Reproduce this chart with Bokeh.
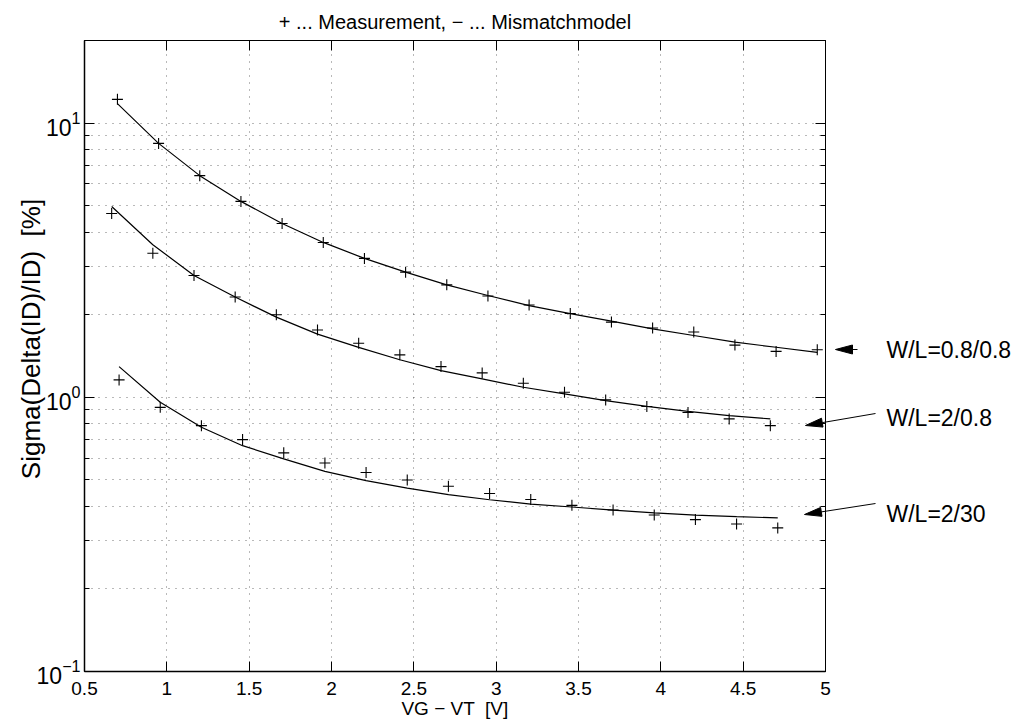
import math
from bokeh.plotting import figure
from bokeh.models import FixedTicker, LinearAxis, LogAxis, Range1d
from bokeh.core.properties import value
from bokeh.embed import file_html
from bokeh.resources import INLINE

# ---------------- data ----------------
# W/L = 0.8/0.8
x_1 = [0.70, 0.95, 1.20, 1.45, 1.70, 1.95, 2.20, 2.45, 2.70, 2.95, 3.20,
       3.45, 3.70, 3.95, 4.20, 4.45, 4.70, 4.95]
meas_1 = [12.2, 8.43, 6.43, 5.18, 4.30, 3.67, 3.21, 2.86, 2.57, 2.34, 2.17,
          2.02, 1.88, 1.79, 1.73, 1.55, 1.47, 1.49]
model_1 = [11.77, 8.43, 6.43, 5.18, 4.30, 3.67, 3.21, 2.86, 2.57, 2.35, 2.16,
           2.02, 1.894, 1.777, 1.68, 1.588, 1.522, 1.459]

# W/L = 2/0.8
x_2 = [0.665, 0.915, 1.165, 1.415, 1.665, 1.915, 2.165, 2.415, 2.665, 2.915,
       3.165, 3.415, 3.665, 3.915, 4.165, 4.415, 4.665]
meas_2 = [4.68, 3.35, 2.78, 2.32, 2.00, 1.76, 1.574, 1.428, 1.294, 1.227,
          1.125, 1.043, 0.978, 0.925, 0.880, 0.834, 0.788]
model_2 = [4.96, 3.60, 2.78, 2.32, 1.96, 1.70, 1.52, 1.37, 1.25, 1.167,
           1.088, 1.029, 0.973, 0.927, 0.889, 0.857, 0.834]

# W/L = 2/30
x_3 = [0.71, 0.96, 1.21, 1.46, 1.71, 1.96, 2.21, 2.46, 2.71, 2.96, 3.21,
       3.46, 3.71, 3.96, 4.21, 4.46, 4.71]
meas_3 = [1.157, 0.919, 0.788, 0.701, 0.627, 0.576, 0.532, 0.4995, 0.4735,
          0.446, 0.424, 0.4036, 0.388, 0.372, 0.358, 0.345, 0.334]
model_3 = [1.294, 0.959, 0.777, 0.666, 0.596, 0.537, 0.497, 0.466, 0.4415,
           0.423, 0.408, 0.398, 0.388, 0.379, 0.372, 0.367, 0.363]

x_ticks = [0.5, 1, 1.5, 2, 2.5, 3, 3.5, 4, 4.5, 5]
x_tick_labels = ["0.5", "1", "1.5", "2", "2.5", "3", "3.5", "4", "4.5", "5"]
y_ticks = [0.1, 1, 10]
y_minor = [0.2, 0.3, 0.4, 0.5, 0.6, 0.7, 0.8, 0.9,
           2, 3, 4, 5, 6, 7, 8, 9, 20]

NB = "\u00a0"
title_text = "+ ... Measurement, \u2212 ... Mismatchmodel"
x_label = "VG \u2212 VT " + NB + "[V]"
y_label = "Sigma(Delta(ID)/ID) " + NB + "[%]"
annotations = ["W/L=0.8/0.8", "W/L=2/0.8", "W/L=2/30"]
annotation_y = [1.493, 0.840, 0.3745]      # value level each label sits at

FONT = "Liberation Sans"

# frame geometry (pixels)
W, H = 1028, 726
FL, FR, FT, FB = 84, 825, 40, 671
XR = (0.5, 5.0)
YR = (0.1, 20.0)


def xd(px):
    return XR[0] + (px - FL) * (XR[1] - XR[0]) / (FR - FL)


def yd(py):
    l0, l1 = math.log10(YR[0]), math.log10(YR[1])
    return 10 ** (l1 - (py - FT) * (l1 - l0) / (FB - FT))


p = figure(width=W, height=H, x_range=Range1d(*XR),
           y_range=Range1d(*YR), y_axis_type="log",
           output_backend="svg", toolbar_location=None,
           min_border_left=FL, min_border_right=W - FR,
           min_border_top=FT, min_border_bottom=H - FB)
p.background_fill_color = "white"
p.border_fill_color = "white"
p.outline_line_color = "black"
p.outline_line_width = 1

# axes
xt = FixedTicker(ticks=x_ticks)
yt = FixedTicker(ticks=y_ticks, minor_ticks=y_minor)

p.xaxis.ticker = xt
p.xaxis.major_label_overrides = {t: s for t, s in zip(x_ticks, x_tick_labels)}
p.yaxis.ticker = yt

for ax in (p.xaxis[0], p.yaxis[0]):
    ax.axis_line_color = "black"
    ax.axis_line_width = 1.5
    ax.major_tick_line_color = "black"
    ax.major_tick_in = 10
    ax.major_tick_out = 0
    ax.minor_tick_in = 5
    ax.minor_tick_out = 0
    ax.minor_tick_line_color = "black"
    ax.major_label_text_font = FONT
    ax.major_label_text_font_size = "19px"
    ax.major_label_text_color = "black"
    ax.axis_label_text_font = FONT
    ax.axis_label_text_font_size = "19px"
    ax.axis_label_text_font_style = "normal"
    ax.axis_label_text_color = "black"

p.xaxis.minor_tick_line_color = None
p.xaxis.major_label_standoff = 10
p.xaxis.axis_label = x_label
p.xaxis.axis_label_standoff = 0
p.yaxis.major_label_text_font_size = "23px"
p.yaxis.major_label_standoff = 4

# top axis: inward ticks + title as its label
top = LinearAxis(ticker=xt, major_label_text_font_size="1px",
                 major_label_text_color=None,
                 major_tick_in=10, major_tick_out=0,
                 minor_tick_line_color=None, axis_line_color="black",
                 major_label_standoff=0,
                 axis_label=title_text, axis_label_standoff=8,
                 axis_label_text_font=FONT, axis_label_text_font_size="20px",
                 axis_label_text_font_style="normal",
                 axis_label_text_color="black")
p.add_layout(top, "above")

# right axis: inward ticks
right = LogAxis(ticker=yt, major_label_text_font_size="1px",
                major_label_text_color=None,
                major_tick_in=10, major_tick_out=0,
                minor_tick_in=5, minor_tick_out=0,
                axis_line_color="black", major_label_standoff=0)
p.add_layout(right, "right")

# second right axis carrying the W/L annotations
ann_axis = LogAxis(ticker=FixedTicker(ticks=annotation_y, minor_ticks=[]),
                   major_label_overrides={v: t for v, t in zip(annotation_y, annotations)},
                   major_label_text_font=FONT, major_label_text_font_size="23px",
                   major_label_text_color="black", major_label_standoff=61,
                   major_tick_line_color=None, minor_tick_line_color=None,
                   major_tick_in=0, major_tick_out=0,
                   axis_line_color=None)
p.add_layout(ann_axis, "right")

# grid
for g in (p.xgrid[0], p.ygrid[0]):
    g.grid_line_color = "black"
    g.grid_line_alpha = 0.55
    g.grid_line_dash = "1 6"
    g.grid_line_width = 1
p.ygrid.minor_grid_line_color = "black"
p.ygrid.minor_grid_line_alpha = 0.55
p.ygrid.minor_grid_line_dash = "1 6"

# model lines
p.line(x_1, model_1, line_color="black", line_width=1.2)
p.line(x_2, model_2, line_color="black", line_width=1.2)
p.line(x_3, model_3, line_color="black", line_width=1.2)

# measurement crosses
p.scatter(x_1, meas_1, marker="cross", size=11, line_color="black", line_width=1.1)
p.scatter(x_2, meas_2, marker="cross", size=11, line_color="black", line_width=1.1)
p.scatter(x_3, meas_3, marker="cross", size=11, line_color="black", line_width=1.1)

# y label, rotated, placed in the left margin (pixel position -> data)
p.text(x=[xd(30)], y=[yd(338.5)], text=[y_label], angle=math.pi / 2,
       text_align="center", text_baseline="middle",
       text_font=value(FONT), text_font_size="26px", text_color="black",
       level="overlay")

# ---------------- arrows (annotation geometry in pixels) ----------------
arrow_tail = [(857, 349), (875, 413), (875, 503)]
arrow_tip = [(835, 349), (805, 425), (804, 514)]
HEAD_L, HEAD_W = 17, 4.5
for (tx, ty), (hx, hy) in zip(arrow_tail, arrow_tip):
    dx, dy = hx - tx, hy - ty
    n = math.hypot(dx, dy)
    ux, uy = dx / n, dy / n
    bx, by = hx - HEAD_L * ux, hy - HEAD_L * uy
    nx, ny = -uy, ux
    p.line([xd(tx), xd(bx)], [yd(ty), yd(by)], line_color="black",
           line_width=1, level="overlay")
    p.patch([xd(hx), xd(bx + HEAD_W * nx), xd(bx - HEAD_W * nx)],
            [yd(hy), yd(by + HEAD_W * ny), yd(by - HEAD_W * ny)],
            fill_color="black", line_color="black", line_width=1,
            level="overlay")

open("out.html", "w").write(file_html(p, INLINE))
